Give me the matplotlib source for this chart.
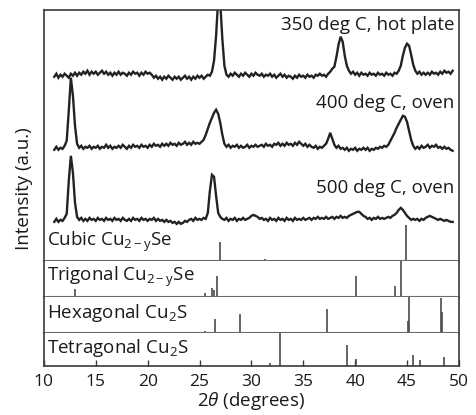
import matplotlib
matplotlib.use("Agg")
import matplotlib.pyplot as plt
import numpy as np

scan_start, scan_step = 11.0, 0.2
intensity_350 = [184, 187, 183, 186, 184, 187, 185, 183, 187, 185,
                 188, 185, 188, 186, 189, 187, 190, 186, 189, 187,
                 189, 186, 188, 190, 187, 189, 186, 188, 185, 188,
                 186, 189, 186, 188, 187, 185, 188, 186, 189, 187,
                 188, 185, 188, 186, 189, 187, 188, 186, 183, 185,
                 182, 184, 181, 184, 182, 185, 183, 181, 184, 182,
                 184, 181, 183, 185, 182, 184, 181, 184, 182, 185,
                 183, 185, 182, 184, 186, 185, 189, 200, 225, 262,
                 258, 222, 195, 186, 184, 187, 185, 188, 186, 184,
                 187, 185, 188, 186, 184, 187, 185, 188, 186, 185,
                 187, 184, 186, 185, 187, 184, 186, 183, 185, 187,
                 184, 186, 183, 185, 184, 182, 185, 183, 186, 184,
                 185, 183, 186, 184, 185, 183, 186, 185, 187, 185,
                 186, 184, 187, 189, 192, 194, 204, 216, 224, 219,
                 205, 195, 190, 187, 189, 186, 188, 185, 188, 186,
                 187, 185, 188, 186, 187, 185, 188, 186, 187, 185,
                 188, 186, 187, 185, 188, 187, 190, 195, 205, 213,
                 217, 215, 206, 196, 190, 187, 189, 186, 188, 186,
                 188, 186, 189, 187, 188, 186, 189, 187, 190, 188,
                 189, 187, 190]
intensity_400 = [111, 114, 111, 113, 112, 115, 120, 150, 183, 165,
                 135, 117, 113, 115, 112, 114, 113, 115, 112, 114,
                 113, 115, 112, 114, 113, 116, 113, 115, 112, 114,
                 113, 115, 113, 116, 114, 112, 115, 113, 116, 114,
                 115, 113, 116, 114, 115, 113, 116, 114, 117, 115,
                 116, 114, 117, 115, 117, 115, 118, 116, 117, 115,
                 118, 116, 117, 119, 116, 118, 116, 119, 117, 118,
                 117, 119, 121, 126, 132, 138, 143, 148, 151, 147,
                 138, 126, 117, 114, 116, 113, 115, 114, 116, 113,
                 115, 113, 114, 116, 113, 115, 114, 116, 114, 115,
                 116, 114, 117, 115, 116, 114, 117, 116, 118, 115,
                 117, 115, 118, 116, 117, 115, 118, 116, 119, 117,
                 115, 117, 114, 116, 114, 113, 115, 112, 114, 113,
                 115, 117, 122, 128, 122, 116, 113, 115, 112, 113,
                 111, 113, 110, 112, 111, 113, 110, 112, 111, 113,
                 111, 113, 110, 112, 111, 113, 112, 114, 113, 115,
                 114, 116, 120, 124, 128, 133, 137, 141, 145, 144,
                 139, 130, 121, 115, 112, 114, 112, 115, 113, 114,
                 116, 113, 115, 114, 116, 113, 114, 112, 114, 112,
                 113, 111, 110]
intensity_500 = [39, 42, 39, 41, 40, 43, 47, 80, 105, 88,
                 58, 44, 41, 43, 40, 42, 40, 43, 41, 42,
                 40, 43, 41, 42, 40, 43, 41, 42, 40, 43,
                 41, 42, 40, 43, 41, 40, 42, 40, 43, 41,
                 42, 40, 43, 41, 42, 40, 42, 41, 43, 40,
                 42, 40, 41, 39, 41, 39, 40, 38, 39, 37,
                 39, 37, 38, 40, 39, 41, 42, 40, 43, 41,
                 42, 41, 43, 42, 48, 70, 86, 84, 65, 48,
                 44, 42, 41, 43, 40, 42, 41, 43, 40, 42,
                 41, 43, 41, 42, 43, 45, 46, 45, 44, 42,
                 43, 41, 42, 40, 43, 41, 42, 40, 43, 41,
                 42, 40, 43, 41, 42, 40, 43, 41, 42, 41,
                 43, 41, 42, 43, 41, 43, 42, 44, 42, 43,
                 42, 44, 42, 43, 44, 42, 44, 43, 45, 43,
                 44, 43, 45, 46, 47, 48, 49, 49, 47, 45,
                 44, 42, 43, 41, 43, 42, 44, 42, 43, 42,
                 43, 44, 43, 45, 46, 48, 51, 53, 51, 48,
                 45, 43, 41, 42, 41, 42, 40, 42, 41, 43,
                 44, 45, 44, 43, 42, 41, 42, 41, 40, 41,
                 40, 39, 39]

trace_labels = ["350 deg C, hot plate", "400 deg C, oven", "500 deg C, oven"]

# reference patterns (stick positions and heights)
cubic_pos = [27.0, 31.3, 44.9]
cubic_int = [19, 2, 36]
trigonal_pos = [13.0, 25.5, 26.2, 26.35, 26.7, 40.1, 43.8, 44.4]
trigonal_int = [8, 4, 9, 7, 21, 21, 11, 36]
hexagonal_pos = [25.5, 26.5, 28.9, 37.25, 45.1, 45.2, 48.3, 48.4]
hexagonal_int = [2, 14, 19, 24, 12, 36, 35, 21]
tetragonal_pos = [31.8, 32.75, 39.2, 40.1, 45.6, 46.3, 48.6]
tetragonal_int = [3, 33, 21, 7, 11, 6, 9]

plt.rcParams["font.family"] = ["Open Sans", "DejaVu Sans"]
plt.rcParams["mathtext.fontset"] = "custom"
plt.rcParams["mathtext.rm"] = "Open Sans"
plt.rcParams["mathtext.it"] = "Open Sans:italic"

fig = plt.figure(figsize=(4.77, 4.15), dpi=100)
gs = fig.add_gridspec(4, 1, height_ratios=[250.7, 36, 36, 33], hspace=0,
                      left=0.092, right=0.962, top=0.976, bottom=0.118)
axes = [fig.add_subplot(gs[i]) for i in range(4)]

frame_col = "#3a3a3a"
sep_col = "#6a6a6a"
stick_col = "#4a4a4a"
text_col = "#1a1a1a"

ax = axes[0]
for yy in [intensity_350, intensity_400, intensity_500]:
    tt = scan_start + scan_step * np.arange(len(yy))
    ax.plot(tt, yy, color="#222222", lw=1.7, solid_joinstyle="miter")
ax.vlines(cubic_pos, 0, cubic_int, color=stick_col, lw=1.2)
ax.set_ylim(0, 250.7)
for label, ypos in zip(trace_labels, [236, 158, 73]):
    ax.text(49.6, ypos, label, ha="right", va="center", fontsize=13.5, color=text_col)
ax.text(0.008, 19, r"Cubic Cu$_{\mathrm{2-y}}$Se", transform=ax.get_yaxis_transform(),
        ha="left", va="center", fontsize=13.5, color=text_col)

stick_sets = [(trigonal_pos, trigonal_int, 36, r"Trigonal Cu$_{\mathrm{2-y}}$Se"),
              (hexagonal_pos, hexagonal_int, 36, r"Hexagonal Cu$_{\mathrm{2}}$S"),
              (tetragonal_pos, tetragonal_int, 33, r"Tetragonal Cu$_{\mathrm{2}}$S")]
for ax, (pos, inten, top, name) in zip(axes[1:], stick_sets):
    ax.vlines(pos, 0, inten, color=stick_col, lw=1.2)
    ax.set_ylim(0, top)
    ax.text(0.008, 0.56, name, transform=ax.transAxes, ha="left", va="center",
            fontsize=13.5, color=text_col)

for i, ax in enumerate(axes):
    ax.set_xlim(10, 50)
    ax.set_yticks([])
    for side in ["left", "right", "top", "bottom"]:
        ax.spines[side].set_color(frame_col)
        ax.spines[side].set_linewidth(1.2)
    if i > 0:
        ax.spines["top"].set_visible(False)
    if i < 3:
        ax.spines["bottom"].set_color(sep_col)
        ax.spines["bottom"].set_linewidth(1.5)
        ax.tick_params(axis="x", bottom=False, labelbottom=False)

axes[3].set_xticks([10, 15, 20, 25, 30, 35, 40, 45, 50])
axes[3].tick_params(axis="x", direction="in", length=4, width=1, color=frame_col,
                    labelsize=12.5, pad=6, labelcolor=text_col)
axes[3].set_xlabel(r"2$\it{\theta}$ (degrees)", fontsize=13.5, labelpad=0, color=text_col)
fig.text(0.05, 0.545, "Intensity (a.u.)", rotation=90, ha="center", va="center",
         fontsize=13.5, color=text_col)

fig.savefig("out.png", dpi=100)
